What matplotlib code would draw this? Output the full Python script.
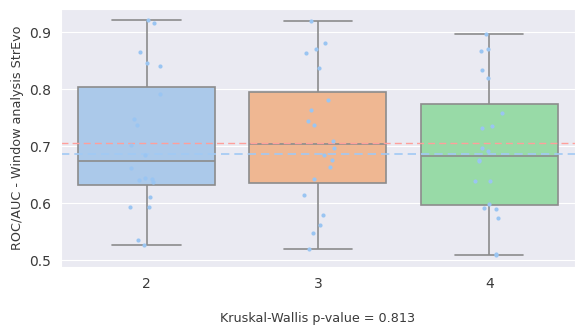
import numpy as np
import pandas as pd
import matplotlib
matplotlib.use('Agg')
import matplotlib.pyplot as plt
import seaborn as sns

# window sizes and ROC/AUC values
windows = ['2', '3', '4']
auc_w2 = [0.921, 0.917, 0.865, 0.846, 0.840, 0.792, 0.747, 0.737, 0.702, 0.685,
          0.662, 0.645, 0.642, 0.641, 0.638, 0.611, 0.594, 0.594, 0.536, 0.527]
auc_w3 = [0.919, 0.882, 0.870, 0.863, 0.838, 0.781, 0.763, 0.745, 0.738, 0.710,
          0.696, 0.684, 0.676, 0.664, 0.642, 0.615, 0.579, 0.561, 0.548, 0.520]
auc_w4 = [0.897, 0.871, 0.867, 0.833, 0.819, 0.758, 0.736, 0.732, 0.697, 0.691,
          0.676, 0.674, 0.639, 0.639, 0.599, 0.591, 0.590, 0.574, 0.511, 0.509]

# reference lines
ref_red = 0.705
ref_blue = 0.687
p_value = 0.813

df = pd.DataFrame({
    'window': ['2'] * len(auc_w2) + ['3'] * len(auc_w3) + ['4'] * len(auc_w4),
    'auc': auc_w2 + auc_w3 + auc_w4,
})

sns.set_style('darkgrid')
fig = plt.figure(figsize=(5.76, 3.3), dpi=100)
ax = fig.add_axes([0.106, 0.191, 0.892, 0.782])

pastel = sns.color_palette('pastel')
sns.boxplot(data=df, x='window', y='auc', order=windows, hue='window',
            palette=pastel[:3], legend=False, width=0.8, fliersize=0,
            linecolor='#8c8c8c', linewidth=1.2, ax=ax)
np.random.seed(3)
sns.stripplot(data=df, x='window', y='auc', order=windows, color='#9ac5f2',
              size=3, jitter=0.1, ax=ax, zorder=3)

ax.axhline(ref_red, color='#ff9f9b', ls='--', lw=1, dashes=(5, 3), zorder=2.5)
ax.axhline(ref_blue, color='#a1c9f4', ls='--', lw=1.2, dashes=(5, 3), zorder=2.5)

ax.set_ylim(0.488, 0.941)
ax.set_yticks([0.5, 0.6, 0.7, 0.8, 0.9])
ax.set_xlabel('')
ax.set_ylabel('ROC/AUC - Window analysis StrEvo', fontsize=9.2, color='#3a3a3a')
ax.tick_params(labelsize=10, colors='#3a3a3a')

fig.text(0.552, 0.035, 'Kruskal-Wallis p-value = {:.3f}'.format(p_value),
         ha='center', va='center', fontsize=9.2, color='#3a3a3a')

fig.savefig('out.png', dpi=100)
